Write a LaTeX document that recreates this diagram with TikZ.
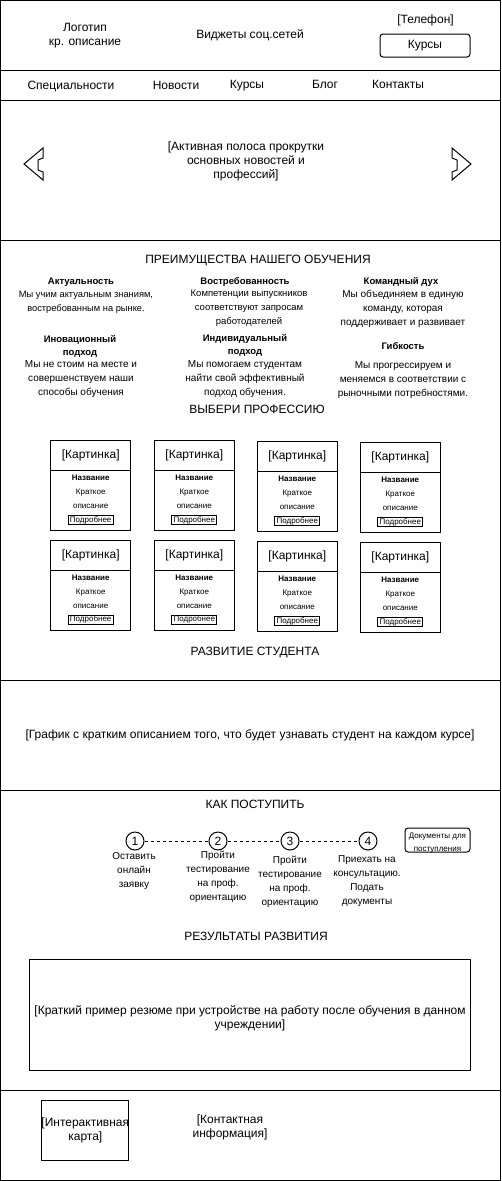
\documentclass[tikz,border=0pt]{standalone}
\usepackage{fontspec}
\setmainfont{Liberation Sans}
\usetikzlibrary{positioning}

\tikzset{
    txt/.style={font=\fontsize{12}{14}\selectfont, align=center, inner sep=0pt},
    oneline/.style={txt, text height=9pt, text depth=2.5pt},
    note/.style={font=\fontsize{10}{14}\selectfont, align=center, inner sep=0pt},
    notehead/.style={font=\fontsize{9.5}{13}\selectfont\bfseries, align=center, inner sep=0pt},
    picbox/.style={draw, minimum width=80pt, minimum height=30pt, inner sep=0pt, outer sep=0pt, font=\fontsize{12}{14}\selectfont},
    bodybox/.style={draw, minimum width=80pt, minimum height=60pt, inner sep=0pt, outer sep=0pt},
    cardtext/.style={font=\fontsize{8}{14}\selectfont, align=center, inner sep=0pt},
    morebtn/.style={draw, minimum width=45pt, minimum height=9pt, inner sep=0pt, font=\fontsize{8}{9}\selectfont},
    stepnum/.style={draw, circle, minimum size=18pt, inner sep=0pt, font=\fontsize{12}{14}\selectfont},
    stepline/.style={dash pattern=on 3pt off 3pt},
}

\begin{document}
\begin{tikzpicture}[x=1pt, y=-1pt, line width=1pt]
    \useasboundingbox (0,0) rectangle (501,1181);

    % Frame and sections
    \draw (0.5,0.5) rectangle (500.5,1180.5);
    \foreach \h in {70.5, 100.5, 240.5, 680.5, 790.5, 1090.5}
        \draw (0.5,\h) -- (500.5,\h);

    % Header
    \node[txt] (logo) at (85,35.5) {Логотип\\кр. описание};
    \node[oneline] (social) at (250,35) {Виджеты соц.сетей};
    \node[oneline] (phone) at (425.5,20.5) {[Телефон]};
    \node[oneline, draw, rounded corners=3pt, minimum width=90pt, minimum height=23pt] (courses) at (425,45.5) {Курсы};

    % Menu
    \node[oneline] (menu1) at (71,86) {Специальности};
    \node[oneline] (menu2) at (176,86) {Новости};
    \node[oneline] (menu3) at (247,85) {Курсы};
    \node[oneline] (menu4) at (325,85) {Блог};
    \node[oneline] (menu5) at (398,85) {Контакты};

    % Slider
    \node[txt] (slider) at (246,161) {[Активная полоса прокрутки\\основных новостей и\\профессий]};
    \draw (24,164) -- (43,148) -- (43,158) -- (38,160) -- (38,170) -- (43,172) -- (43,180) -- cycle;
    \draw (471,164) -- (452,148) -- (452,158) -- (457,160) -- (457,170) -- (452,172) -- (452,180) -- cycle;

    % Advantages
    \node[oneline] (advtitle) at (258,260) {ПРЕИМУЩЕСТВА НАШЕГО ОБУЧЕНИЯ};
    \node[notehead] (adv1) at (81,282) {Актуальность};
    \node[note, font=\fontsize{9.3}{14}\selectfont] (adv1txt) at (86,302) {Мы учим актуальным знаниям,\\востребованным на рынке.};
    \node[notehead] (adv2) at (245,282) {Востребованность};
    \node[note, font=\fontsize{9.5}{14}\selectfont] (adv2txt) at (249,308.5) {Компетенции выпускников\\соответствуют запросам\\работодателей};
    \node[notehead] (adv3) at (401,282) {Командный дух};
    \node[note] (adv3txt) at (403,309) {Мы объединяем в единую\\команду, которая\\поддерживает и развивает};
    \node[notehead] (adv4) at (80,346.5) {Иновационный\\подход};
    \node[note] (adv4txt) at (81,379) {Мы не стоим на месте и\\совершенствуем наши\\способы обучения};
    \node[notehead] (adv5) at (245,345) {Индивидуальный\\подход};
    \node[note] (adv5txt) at (245,379) {Мы помогаем студентам\\найти свой эффективный\\подход обучения.};
    \node[notehead] (adv6) at (403,346) {Гибкость};
    \node[note] (adv6txt) at (403,380) {Мы прогрессируем и\\меняемся в соответствии с\\рыночными потребностями.};

    % Professions
    \node[oneline] (proftitle) at (257,410) {ВЫБЕРИ ПРОФЕССИЮ};
    \foreach \i/\x/\y in {1/50.7/440.7, 2/154.3/440.7, 3/257.3/441.7, 4/360.3/442.7,
                          5/50.7/540.3, 6/154.3/540.3, 7/257.3/541.7, 8/360.3/542.7}{
        \node[picbox, anchor=north west] (pic\i) at (\x,\y) {[Картинка]};
        \node[bodybox, below=0pt of pic\i] (body\i) {};
        \node[cardtext, font=\fontsize{8}{14}\selectfont\bfseries] (name\i) at (\x+40,\y+37.5) {Название};
        \node[cardtext] (desc\i) at (\x+40,\y+58.5) {Краткое\\описание};
        \node[morebtn] (more\i) at (\x+40,\y+79.5) {Подробнее};
    }

    % Student growth
    \node[oneline] (growtitle) at (255,652) {РАЗВИТИЕ СТУДЕНТА};
    \node[oneline] (graph) at (250,735) {[График с кратким описанием того, что будет узнавать студент на каждом курсе]};

    % How to apply
    \node[oneline] (applytitle) at (255,805) {КАК ПОСТУПИТЬ};
    \node[stepnum] (s1) at (135,841) {1};
    \node[stepnum] (s2) at (218,841) {2};
    \node[stepnum] (s3) at (290,841) {3};
    \node[stepnum] (s4) at (368,841) {4};
    \foreach \a/\b in {1/2, 2/3, 3/4}
        \draw[stepline] (s\a) -- (s\b);
    \node[note] (s1txt) at (134,871) {Оставить\\онлайн\\заявку};
    \node[note] (s2txt) at (218,877) {Пройти\\тестирование\\на проф.\\ориентацию};
    \node[note] (s3txt) at (290,882) {Пройти\\тестирование\\на проф.\\ориентацию};
    \node[note] (s4txt) at (367,881.5) {Приехать на\\консультацию.\\Подать\\документы};
    \node[draw, rounded corners=3pt, minimum width=65pt, minimum height=24pt] (docs) at (437.5,840) {};
    \node[cardtext, font=\fontsize{8}{13.5}\selectfont] (docstxt) at (437.5,843) {Документы для\\поступления};

    % Results
    \node[oneline] (restitle) at (256,937) {РЕЗУЛЬТАТЫ РАЗВИТИЯ};
    \node[draw, minimum width=440.7pt, minimum height=110.7pt] (resume) at (250.3,1015.3) {};
    \node[txt] (resumetxt) at (250,1018) {[Краткий пример резюме при устройстве на работу после обучения в данном\\учреждении]};

    % Footer
    \node[draw, minimum width=86.7pt, minimum height=60pt] (map) at (85.3,1130) {};
    \node[txt] (maptxt) at (85.3,1130.5) {[Интерактивная\\карта]};
    \node[txt] (contact) at (230,1127) {[Контактная\\информация]};

\end{tikzpicture}
\end{document}
